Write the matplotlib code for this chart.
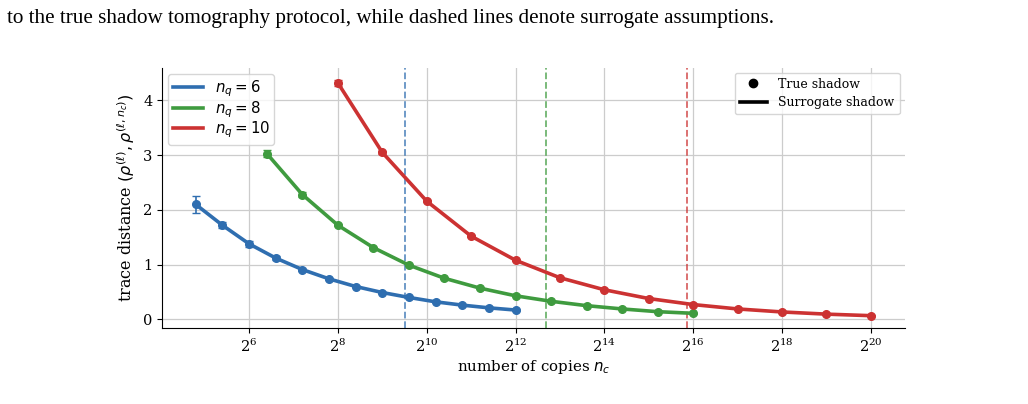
"""Trace distance vs number of copies for true and surrogate shadow."""
import matplotlib
matplotlib.use("Agg")
import matplotlib.pyplot as plt
from matplotlib.lines import Line2D

plt.rcParams["font.family"] = ["DejaVu Serif"]
plt.rcParams["mathtext.fontset"] = "dejavusans"

# log2 of the number of copies
exp_6 = [4.8, 5.4, 6.0, 6.6, 7.2, 7.8, 8.4, 9.0, 9.6, 10.2, 10.8, 11.4, 12.0]
exp_8 = [6.4, 7.2, 8.0, 8.8, 9.6, 10.4, 11.2, 12.0, 12.8, 13.6, 14.4, 15.2, 16.0]
exp_10 = [8, 9, 10, 11, 12, 13, 14, 15, 16, 17, 18, 19, 20]

td_6 = [2.10, 1.72, 1.38, 1.12, 0.91, 0.74, 0.60, 0.49, 0.40, 0.32, 0.26, 0.21, 0.17]
td_8 = [3.03, 2.28, 1.72, 1.31, 0.99, 0.75, 0.57, 0.43, 0.33, 0.25, 0.19, 0.14, 0.11]
td_10 = [4.32, 3.05, 2.16, 1.52, 1.08, 0.76, 0.54, 0.38, 0.27, 0.19, 0.135, 0.095, 0.067]

err_6 = [0.16, 0.05, 0.05, 0.03, 0.02, 0.02, 0.01, 0.01, 0.01, 0.01, 0.01, 0.01, 0.01]
err_8 = [0.06, 0.04, 0.02, 0.02, 0.01, 0.01, 0.01, 0.01, 0.01, 0.01, 0.01, 0.01, 0.01]
err_10 = [0.06, 0.03, 0.02, 0.02, 0.01, 0.01, 0.01, 0.01, 0.01, 0.01, 0.01, 0.01, 0.01]

# surrogate thresholds (log2 n_c)
thresh = {6: 9.51, 8: 12.69, 10: 15.86}

colors = {6: "#2f6eb0", 8: "#3f9b3f", 10: "#cc3232"}

series = [
    (6, exp_6, td_6, err_6),
    (8, exp_8, td_8, err_8),
    (10, exp_10, td_10, err_10),
]

fig = plt.figure(figsize=(10.28, 4.04), dpi=100)
fig.text(0.007, 0.953, "to the true shadow tomography protocol, while dashed lines "
         "denote surrogate assumptions.", fontsize=15.2,
         family="Liberation Serif", va="center")

ax = fig.add_axes([0.1576, 0.188, 0.7224, 0.644])

handles = []
for nq, ex, td, er in series:
    c = colors[nq]
    xs = [2.0 ** e for e in ex]
    h, = ax.plot(xs, td, color=c, lw=2.6, label=f"$n_q = {nq}$", zorder=3)
    ax.errorbar(xs, td, yerr=er, fmt="o", color=c, ms=5.5, capsize=3,
                elinewidth=1.2, zorder=4)
    ax.axvline(2.0 ** thresh[nq], color=c, ls="--", lw=1.3, alpha=0.75)
    handles.append(h)

ax.set_xscale("log", base=2)
ax.set_xticks([2.0 ** k for k in range(6, 21, 2)])
ax.minorticks_off()
ax.set_yticks([0, 1, 2, 3, 4])
ax.grid(True, color="#cccccc", lw=0.9)
ax.set_axisbelow(True)
for s in ("top", "right"):
    ax.spines[s].set_visible(False)
ax.tick_params(labelsize=10.5)

ax.set_xlabel("number of copies $n_c$", fontsize=10.8, labelpad=2)
ax.set_ylabel(r"trace distance $(\rho^{(\ell)}, \rho^{(\ell, n_c)})$", fontsize=11.5)

leg1 = ax.legend(handles=handles, loc="upper left", fontsize=10.8,
                 labelspacing=0.0, handlelength=2.0, borderpad=0.3,
                 borderaxespad=0.4)
ax.add_artist(leg1)
style_handles = [
    Line2D([], [], color="black", marker="o", ls="none", ms=6),
    Line2D([], [], color="black", lw=2.6),
]
ax.legend(style_handles, ["True shadow", "Surrogate shadow"],
          loc="upper right", fontsize=9, labelspacing=0.45,
          handlelength=2.2, handletextpad=0.9, borderaxespad=0.4)

fig.savefig("out.png", dpi=100)
